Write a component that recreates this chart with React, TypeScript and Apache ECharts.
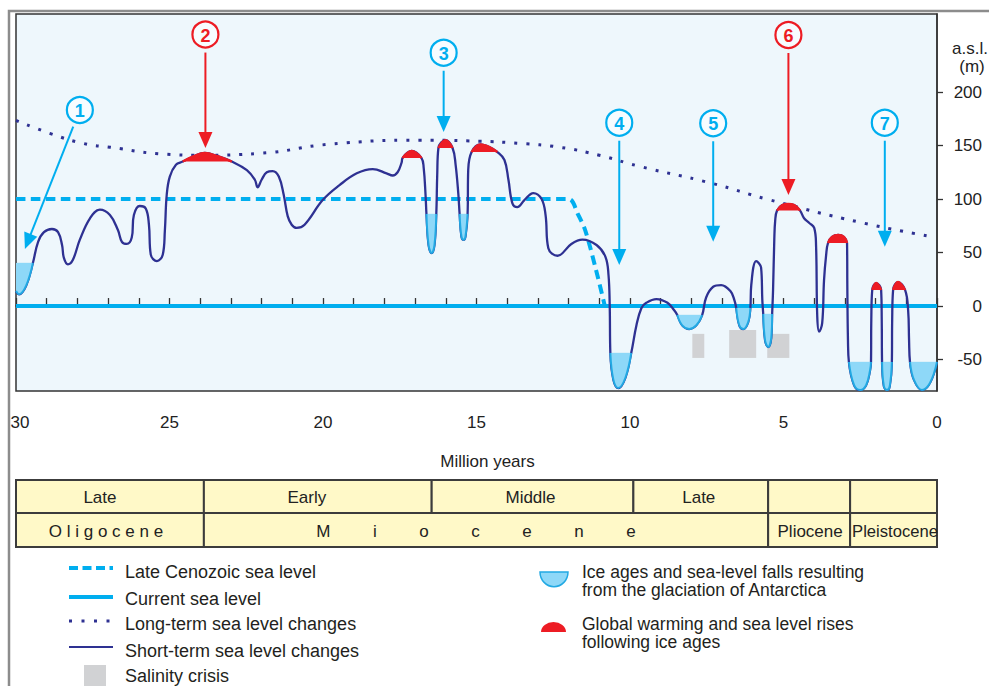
import React, { useEffect, useRef } from "react";
import * as echarts from "echarts";

const CYAN = "#00AEEF";
const RED = "#ED1C24";
const NAVY = "#2E3192";
const FONT = '"Liberation Sans", Arial, sans-serif';

// ---------- data ----------
const seaLevelTicks = [-50, 0, 50, 100, 150, 200];

const shortTerm: number[][] = [
  [30.0, 14], [29.9, 11], [29.67, 19], [29.45, 40.2], [29.28, 60], [29.09, 69], [28.83, 72], [28.63, 69],
  [28.5, 57], [28.44, 45], [28.31, 39], [28.15, 43], [27.92, 62], [27.59, 82], [27.27, 90], [26.94, 85],
  [26.68, 71], [26.55, 60], [26.39, 58], [26.23, 64], [26.16, 85], [25.97, 93.5], [25.77, 91], [25.67, 76],
  [25.61, 48], [25.41, 42], [25.22, 48], [25.15, 71], [25.09, 104], [24.99, 121], [24.79, 132], [24.57, 135],
  [24.21, 140], [23.85, 143], [23.43, 140], [22.97, 135], [22.48, 127], [22.22, 118], [22.13, 111], [22.0, 118],
  [21.83, 125], [21.64, 126], [21.44, 121], [21.28, 104], [21.15, 84], [21.02, 76], [20.86, 73], [20.6, 76],
  [20.01, 99], [19.46, 113], [18.9, 124], [18.38, 128], [17.93, 124], [17.73, 122], [17.57, 125], [17.44, 134],
  [17.41, 138.3], [17.11, 145], [16.79, 138.3], [16.72, 129], [16.66, 104], [16.63, 86], [16.56, 57], [16.46, 49.5],
  [16.37, 57], [16.31, 86], [16.28, 122], [16.24, 147.7], [16.01, 155], [15.78, 147.7], [15.68, 132], [15.59, 104],
  [15.55, 86], [15.49, 65], [15.42, 62], [15.36, 65], [15.29, 86], [15.27, 127], [15.16, 143.9], [14.87, 151],
  [14.58, 148.6], [14.32, 143.9], [14.09, 136.5], [13.96, 118], [13.83, 96], [13.67, 92.5], [13.44, 99], [13.15, 105.6],
  [12.88, 100], [12.75, 85], [12.66, 54], [12.36, 47], [11.91, 58], [11.55, 62], [11.09, 57], [10.8, 46],
  [10.7, 29], [10.66, -1], [10.64, -43.9], [10.54, -69], [10.38, -76.6], [10.15, -67], [9.96, -43.9], [9.79, -18],
  [9.63, -2], [9.47, 3], [9.14, 6.5], [8.78, 3], [8.56, -4], [8.46, -8.4], [8.3, -18], [8.07, -21.5],
  [7.84, -18], [7.65, -8.4], [7.52, 8], [7.29, 18], [7.03, 19.6], [6.73, 14], [6.6, 5.6], [6.54, -1.9],
  [6.44, -18], [6.31, -21.5], [6.15, -15], [6.08, -1.9], [6.05, 19.6], [5.89, 42], [5.73, 36], [5.69, 5.6],
  [5.66, -7.5], [5.6, -32], [5.5, -38.3], [5.4, -30], [5.37, -7.5], [5.34, 15], [5.3, 62], [5.27, 80],
  [5.21, 89.2], [5.04, 94.4], [4.85, 95.3], [4.65, 94.4], [4.46, 89.2], [4.33, 82], [4.16, 77.6], [4.0, 73],
  [3.94, 57], [3.9, -10], [3.84, -24], [3.74, -16], [3.68, 24], [3.61, 48], [3.55, 58.9], [3.42, 64.5],
  [3.22, 66.4], [3.03, 64.5], [2.93, 58.9], [2.92, 15], [2.9, -32], [2.87, -52.3], [2.7, -74], [2.5, -78.5],
  [2.31, -74], [2.18, -60], [2.15, -52.3], [2.14, -13], [2.11, 15], [1.98, 21.5], [1.82, 15], [1.8, -13],
  [1.79, -52.3], [1.73, -75], [1.63, -78.5], [1.54, -75], [1.47, -52.3], [1.46, -13], [1.43, 15], [1.27, 22.4],
  [1.04, 15], [0.94, -4], [0.91, -32], [0.88, -52.3], [0.75, -69], [0.49, -78.5], [0.23, -72], [0, -52.3],
];

const longTerm: number[][] = [
  [30, 173.5], [28.9, 161.4], [27.82, 152], [26.94, 148.4], [25.09, 141.8], [24.01, 140.9], [22.06, 142.7],
  [19.78, 151.2], [16.85, 154.9], [14.9, 154], [13.6, 152], [12.3, 148.4], [11.0, 140.9], [9.7, 130.6],
  [7.35, 114.8], [5.53, 99.8], [2.53, 78.4], [0.1, 64.4],
];

const lateCenozoic: number[][] = [[30, 100], [12.0, 100], [11.7, 86], [11.45, 70], [11.1, 33], [10.82, 0]];
const currentSeaLevel: number[][] = [[30, 0], [0, 0]];

const iceAgeFrom = [30, 16.63, 15.55, 10.64, 8.46, 6.54, 5.66, 2.87, 1.79, 0.88];
const iceAgeTo = [29.45, 16.31, 15.29, 9.96, 7.65, 6.08, 5.37, 2.15, 1.47, 0];
const iceAgeLevel = [40.2, 86, 86, -43.9, -8.4, -1.9, -7.5, -52.3, -52.3, -52.3];

const warmFrom = [24.57, 17.41, 16.24, 15.16, 5.21, 3.55, 2.11, 1.43];
const warmTo = [22.97, 16.79, 15.78, 14.32, 4.46, 2.93, 1.82, 1.04];
const warmLevel = [135, 138.3, 147.7, 143.9, 89.2, 58.9, 15, 15];

const salinityFrom = [7.97, 6.77, 5.53];
const salinityTo = [7.58, 5.89, 4.81];
const salinityTop = [-26, -22.4, -26];
const salinityBottom = [-48.5, -48.5, -48.5];

const markerLabels = ["1", "2", "3", "4", "5", "6", "7"];
const markerWarm = [false, true, false, false, false, true, false];
const markerAge = [27.92, 23.83, 16.07, 10.35, 7.29, 4.84, 1.7];
const markerLevel = [183.2, 253.7, 236.7, 171.3, 170.8, 253.3, 171.3];
const arrowTipAge = [29.71, 23.83, 16.07, 10.35, 7.29, 4.84, 1.7];
const arrowTipLevel = [53.3, 147.7, 162.6, 38.3, 60.1, 103.7, 55.4];

const stageNames = ["Late", "Early", "Middle", "Late", "", ""];
const stageStart = [30, 23.88, 16.46, 9.89, 5.5, 2.83];
const stageEnd = [23.88, 16.46, 9.89, 5.5, 2.83, 0];

const NB = "\u00A0".repeat(9);
const epochNames = ["O l i g o c e n e", ["M", "i", "o", "c", "e", "n", "e"].join(NB), "Pliocene", "Pleistocene"];
const epochStart = [30, 23.88, 5.5, 2.83];
const epochEnd = [23.88, 5.5, 2.83, 0];

const legendLeft = [
  "Late Cenozoic sea level",
  "Current sea level",
  "Long-term sea level changes",
  "Short-term sea level changes",
  "Salinity crisis",
];
const legendRight = [
  ["Ice ages and sea-level falls resulting", "from the glaciation of Antarctica"],
  ["Global warming and sea level rises", "following ice ages"],
];

// ---------- helpers ----------
const segment = (from: number, to: number) =>
  shortTerm.filter((p) => p[0] <= from + 1e-9 && p[0] >= to - 1e-9);

const SMOOTH = 0.4;

export default function App() {
  const ref = useRef<HTMLDivElement>(null);

  useEffect(() => {
    if (!ref.current) return;
    const chart = echarts.init(ref.current, undefined, { renderer: "svg" });

    const cellStart = [...stageStart, ...epochStart];
    const cellEnd = [...stageEnd, ...epochEnd];
    const cellRow = [...stageStart.map(() => 0), ...epochStart.map(() => 1)];
    const cellLabel = [...stageNames, ...epochNames];
    const cellShift = [-10, -11, -2, -2, 0, 0, -4, -10, 1, 0];
    const rowTop = [480, 513];
    const rowH = [33, 34];

    const iceSeries = iceAgeFrom.map((f, i) => ({
      type: "line",
      data: segment(f, iceAgeTo[i]),
      smooth: SMOOTH,
      showSymbol: false,
      symbol: "none",
      z: 5,
      lineStyle: { color: "#22A9E3", width: 2 },
      areaStyle: { color: "#8ED8F8", opacity: 1, origin: iceAgeLevel[i] },
      markLine: {
        silent: true,
        symbol: "none",
        label: { show: false },
        lineStyle: { color: "#4DBDEB", width: 1.2, type: "solid" },
        data: [[{ coord: [f, iceAgeLevel[i]] }, { coord: [iceAgeTo[i], iceAgeLevel[i]] }]],
      },
    }));

    const warmSeries = warmFrom.map((f, i) => ({
      type: "line",
      data: segment(f, warmTo[i]),
      smooth: SMOOTH,
      showSymbol: false,
      symbol: "none",
      z: 5,
      lineStyle: { color: RED, width: 2.4 },
      areaStyle: { color: RED, opacity: 1, origin: warmLevel[i] },
    }));

    const option: any = {
      animation: false,
      backgroundColor: "#ffffff",
      textStyle: { fontFamily: FONT },
      grid: {
        left: 16,
        right: 52,
        top: 14,
        bottom: 295,
        show: true,
        backgroundColor: "#EEF7FC",
        borderColor: "#333333",
        borderWidth: 1.5,
      },
      xAxis: {
        type: "value",
        min: 0,
        max: 30,
        interval: 1,
        inverse: true,
        position: "bottom",
        offset: 50,
        axisLine: { show: true, lineStyle: { color: "#333", width: 1.5 } },
        axisTick: { show: true, inside: true, length: 8, lineStyle: { color: "#333", width: 1.3 } },
        axisLabel: {
          inside: true,
          margin: 10,
          fontSize: 17,
          color: "#222",
          fontFamily: FONT,
          showMinLabel: true,
          showMaxLabel: true,
          formatter: (v: number) => (v === 30 ? "{first|30}" : v % 5 === 0 ? String(v) : ""),
          rich: { first: { fontSize: 17, color: "#222", fontFamily: FONT, padding: [0, 0, 0, 8] } },
        },
        splitLine: { show: false },
        name: "Million years",
        nameLocation: "middle",
        nameGap: 12,
        nameTextStyle: { fontSize: 17, color: "#222", fontFamily: FONT, padding: [0, 0, 0, 22], verticalAlign: "top" },
      },
      yAxis: {
        type: "value",
        min: -79.4,
        max: 272.9,
        position: "right",
        axisLine: { show: true, lineStyle: { color: "#333", width: 1.5 } },
        axisTick: { show: true, length: 6, customValues: seaLevelTicks, lineStyle: { color: "#333", width: 1.3 } },
        axisLabel: {
          customValues: seaLevelTicks,
          fontSize: 17,
          color: "#222",
          fontFamily: FONT,
          align: "right",
          margin: 45,
          formatter: (v: number) => (v % 50 === 0 ? String(v) : ""),
        },
        splitLine: { show: false },
      },
      series: [
        {
          type: "custom",
          coordinateSystem: "cartesian2d",
          z: 1,
          clip: true,
          data: salinityFrom.map((f, i) => [f, salinityTop[i]]),
          renderItem: (params: any, api: any) => {
            const i = params.dataIndex;
            const a = api.coord([salinityFrom[i], salinityTop[i]]);
            const b = api.coord([salinityTo[i], salinityBottom[i]]);
            return {
              type: "rect",
              shape: { x: Math.min(a[0], b[0]), y: Math.min(a[1], b[1]), width: Math.abs(b[0] - a[0]), height: Math.abs(b[1] - a[1]) },
              style: { fill: "#D1D2D4" },
            };
          },
        },
        {
          type: "line",
          data: currentSeaLevel,
          showSymbol: false,
          symbol: "none",
          z: 2,
          lineStyle: { color: CYAN, width: 4 },
        },
        {
          type: "line",
          data: lateCenozoic,
          smooth: 0.3,
          showSymbol: false,
          symbol: "none",
          z: 2,
          lineStyle: { color: CYAN, width: 4, type: [9.5, 5.5] },
        },
        {
          type: "line",
          data: longTerm,
          smooth: 0.5,
          showSymbol: false,
          symbol: "none",
          z: 3,
          lineStyle: { color: NAVY, width: 3, type: [3, 9] },
        },
        {
          type: "line",
          data: shortTerm,
          smooth: SMOOTH,
          showSymbol: false,
          symbol: "none",
          z: 4,
          lineStyle: { color: NAVY, width: 2.3 },
        },
        ...iceSeries,
        ...warmSeries,
        {
          type: "custom",
          coordinateSystem: "cartesian2d",
          z: 8,
          clip: false,
          data: markerAge.map((a, i) => [a, markerLevel[i]]),
          renderItem: (params: any, api: any) => {
            const i = params.dataIndex;
            const c = api.coord([markerAge[i], markerLevel[i]]);
            const t = api.coord([arrowTipAge[i], arrowTipLevel[i]]);
            const color = markerWarm[i] ? RED : CYAN;
            const dx = t[0] - c[0];
            const dy = t[1] - c[1];
            const len = Math.hypot(dx, dy) || 1;
            const ux = dx / len;
            const uy = dy / len;
            const r = 13;
            const s = [c[0] + ux * (r + 5), c[1] + uy * (r + 5)];
            const head = 16;
            const hw = 7;
            const b = [t[0] - ux * head, t[1] - uy * head];
            const px = -uy;
            const py = ux;
            return {
              type: "group",
              children: [
                { type: "line", shape: { x1: s[0], y1: s[1], x2: b[0] + ux * 2, y2: b[1] + uy * 2 }, style: { stroke: color, lineWidth: 2 } },
                {
                  type: "polygon",
                  shape: { points: [[t[0], t[1]], [b[0] + px * hw, b[1] + py * hw], [b[0] - px * hw, b[1] - py * hw]] },
                  style: { fill: color },
                },
                { type: "circle", shape: { cx: c[0], cy: c[1], r }, style: { fill: "#F7FCFF", stroke: color, lineWidth: 2.2 } },
                {
                  type: "text",
                  x: c[0],
                  y: c[1] + 1,
                  style: { text: markerLabels[i], fill: color, font: `bold 18px ${FONT}`, align: "center", verticalAlign: "middle" },
                },
              ],
            };
          },
        },
        {
          type: "custom",
          coordinateSystem: "cartesian2d",
          z: 8,
          clip: false,
          data: cellStart.map((s) => [s, 0]),
          renderItem: (params: any, api: any) => {
            const i = params.dataIndex;
            const x1 = api.coord([cellStart[i], 0])[0];
            const x2 = api.coord([cellEnd[i], 0])[0];
            const row = cellRow[i];
            const y = rowTop[row];
            const h = rowH[row];
            const isLeft = cellLabel[i] === "Pleistocene";
            return {
              type: "group",
              children: [
                {
                  type: "rect",
                  shape: { x: Math.min(x1, x2), y, width: Math.abs(x2 - x1), height: h },
                  style: { fill: "#FFF9C8", stroke: "#3C3C3C", lineWidth: 2 },
                },
                {
                  type: "text",
                  x: isLeft ? Math.min(x1, x2) + 2 : (x1 + x2) / 2 + cellShift[i],
                  y: y + h / 2 + 1,
                  style: {
                    text: cellLabel[i],
                    fill: "#222",
                    font: `${isLeft ? 16.6 : 17}px ${FONT}`,
                    align: isLeft ? "left" : "center",
                    verticalAlign: "middle",
                  },
                },
              ],
            };
          },
        },
      ],
      graphic: {
        elements: [
          { type: "rect", shape: { x: 9, y: 11, width: 1000, height: 700 }, style: { fill: "none", stroke: "#8C8C8C", lineWidth: 2.5 }, silent: true },
          { type: "text", x: 970, y: 48, style: { text: "a.s.l.", font: `17px ${FONT}`, fill: "#222", align: "center", verticalAlign: "middle" } },
          { type: "text", x: 972, y: 66, style: { text: "(m)", font: `17px ${FONT}`, fill: "#222", align: "center", verticalAlign: "middle" } },
          // left legend icons
          { type: "line", shape: { x1: 69, y1: 568, x2: 113, y2: 568 }, style: { stroke: CYAN, lineWidth: 4, lineDash: [9, 4.5] } },
          { type: "line", shape: { x1: 69, y1: 597, x2: 113, y2: 597 }, style: { stroke: CYAN, lineWidth: 4 } },
          { type: "line", shape: { x1: 69, y1: 621, x2: 113, y2: 621 }, style: { stroke: NAVY, lineWidth: 3, lineDash: [3, 9.5] } },
          { type: "line", shape: { x1: 69, y1: 647, x2: 113, y2: 647 }, style: { stroke: NAVY, lineWidth: 2 } },
          { type: "rect", shape: { x: 84, y: 665, width: 22, height: 25 }, style: { fill: "#D1D2D4" } },
          ...legendLeft.map((t, i) => ({
            type: "text",
            x: 125,
            y: [572, 599, 624, 651, 676][i],
            style: { text: t, font: `18px ${FONT}`, fill: "#231F20", verticalAlign: "middle" },
          })),
          // right legend icons
          {
            type: "sector",
            x: 554,
            y: 572,
            scaleY: 1.05,
            shape: { cx: 0, cy: 0, r: 14, startAngle: 0, endAngle: Math.PI, clockwise: true },
            style: { fill: "#8ED8F8", stroke: "#22A9E3", lineWidth: 1.5 },
          },
          {
            type: "sector",
            x: 553.5,
            y: 632,
            scaleY: 0.8,
            shape: { cx: 0, cy: 0, r: 12.5, startAngle: Math.PI, endAngle: 2 * Math.PI, clockwise: true },
            style: { fill: RED },
          },
          ...legendRight.flatMap((lines, i) =>
            lines.map((t, j) => ({
              type: "text",
              x: 582,
              y: [571.5, 623.5][i] + j * 18.5,
              style: { text: t, font: `17.5px ${FONT}`, fill: "#231F20", verticalAlign: "middle" },
            }))
          ),
        ],
      },
    };

    chart.setOption(option);
    return () => chart.dispose();
  }, []);

  return <div ref={ref} style={{ position: "absolute", left: 0, top: 0, width: 989, height: 686 }} />;
}
